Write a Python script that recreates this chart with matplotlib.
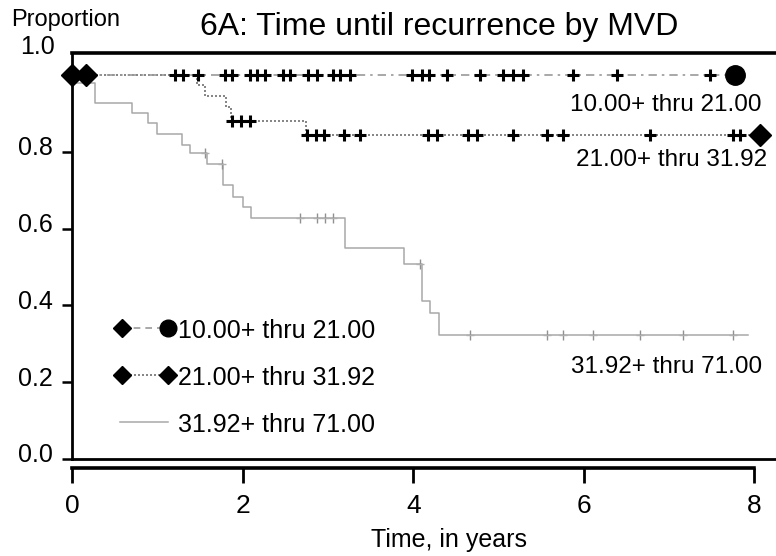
import numpy as np
import matplotlib
matplotlib.use('Agg')
import matplotlib.pyplot as plt
from matplotlib.transforms import ScaledTranslation

plt.rcParams['font.family'] = ['Liberation Sans', 'DejaVu Sans']

# group 1: 10.00+ thru 21.00 (no recurrences, only censored cases)
g1_censor = [1.21, 1.30, 1.48, 1.79, 1.88, 2.09, 2.17, 2.26, 2.47, 2.55, 2.77, 2.87,
             3.06, 3.14, 3.26, 3.99, 4.10, 4.19, 4.40, 4.78, 5.05, 5.17, 5.29, 5.87,
             6.39, 7.48]
g1_start = 0.16
g1_end = 7.77

# group 2: 21.00+ thru 31.92
g2_times = [0.0, 1.47, 1.56, 1.80, 1.86, 2.74]
g2_surv = [1.0, 0.974, 0.945, 0.917, 0.880, 0.844]
g2_censor = [1.88, 1.98, 2.09, 2.76, 2.86, 2.95, 3.19, 3.38, 4.17, 4.28, 4.64, 4.75,
             5.17, 5.57, 5.76, 6.78, 7.75, 7.83]
g2_end = 8.07

# group 3: 31.92+ thru 71.00
g3_times = [0.0, 0.02, 0.27, 0.70, 0.89, 1.00, 1.29, 1.38, 1.58, 1.77, 1.89, 2.00,
            2.10, 3.20, 3.89, 4.10, 4.20, 4.30]
g3_surv = [1.0, 0.979, 0.927, 0.901, 0.875, 0.846, 0.818, 0.797, 0.768, 0.714, 0.682,
           0.656, 0.628, 0.549, 0.508, 0.411, 0.380, 0.323]
g3_censor = [1.56, 1.76, 2.67, 2.87, 2.97, 3.06, 4.08, 4.67, 5.57, 5.76, 6.11, 6.66,
             7.16, 7.75]
g3_end = 7.92

group_labels = ['10.00+ thru 21.00', '21.00+ thru 31.92', '31.92+ thru 71.00']
y_ticks = [0.0, 0.2, 0.4, 0.6, 0.8]
x_ticks = [0, 2, 4, 6, 8]

W, H = 776, 556


def fx(px):
    return px / W


def fy(py):
    return 1 - py / H


def surv_at(times, surv, t):
    return surv[np.searchsorted(times, t, side='right') - 1]


fig = plt.figure(figsize=(W / 100, H / 100), dpi=100)
ax = fig.add_axes([fx(72), fy(459), fx(776) - fx(72), fy(53) - fy(459)])
ax.set_xlim(0, (776 - 72) / 85.3)
ax.set_ylim(0, 1 + 22 / 384)

# group 3 - thin solid grey
t3 = np.append(g3_times, g3_end)
s3 = np.append(g3_surv, g3_surv[-1])
ax.step(t3, s3, where='post', color='#a8a8a8', lw=1.1, zorder=2)
c3 = [surv_at(g3_times, g3_surv, c) for c in g3_censor]
ax.plot(g3_censor, c3, ls='none', marker='|', ms=7, mew=1.0, color='#909090', zorder=2)
ax.plot(g3_censor, c3, ls='none', marker='_', ms=6, mew=1.0, color='#b0b0b0', zorder=2)

# group 2 - dotted
t2 = np.append(g2_times, g2_end)
s2 = np.append(g2_surv, g2_surv[-1])
ax.step(t2, s2, where='post', color='#707070', lw=1.2, ls=(0, (1.2, 1.2)), zorder=3)
c2 = [surv_at(g2_times, g2_surv, c) for c in g2_censor]
ax.plot(g2_censor, c2, ls='none', marker='+', ms=9, mew=2.2, color='black', zorder=4)
ax.plot(g2_times[0], g2_surv[0], marker='D', ms=11, color='black', zorder=5, clip_on=False)
ax.plot(g2_end, g2_surv[-1], marker='D', ms=11, color='black', zorder=5, clip_on=False)

# group 1 - dash-dot grey
ax.plot([g1_start, g1_end], [1.0, 1.0], color='#9a9a9a', lw=1.2, ls=(0, (5, 3, 1.5, 3)), zorder=3)
ax.plot(g1_censor, [1.0] * len(g1_censor), ls='none', marker='+', ms=9, mew=2.2,
        color='black', zorder=4)
ax.plot(g1_start, 1.0, marker='D', ms=11, color='black', zorder=5, clip_on=False)
ax.plot(g1_end, 1.0, marker='o', ms=14, color='black', zorder=5, clip_on=False)

# frame
for side in ['left', 'bottom']:
    ax.spines[side].set_linewidth(2.0)
ax.spines['top'].set_linewidth(2.6)
ax.spines['right'].set_visible(False)

ax.set_yticks(y_ticks)
ax.set_yticklabels(['%.1f' % v for v in y_ticks])
ax.tick_params(axis='y', direction='out', length=7, width=1.8, pad=7, labelsize=18)
for lab in ax.get_yticklabels():
    lab.set_transform(lab.get_transform() + ScaledTranslation(0, 0.06, fig.dpi_scale_trans))
ax.set_xticks([])

# separate x axis line below the frame (SPSS style)
secx = ax.secondary_xaxis(-9 / 406)
secx.spines['bottom'].set_linewidth(2.6)
secx.spines['bottom'].set_bounds(0, 8)
secx.set_xticks(x_ticks)
secx.set_xticklabels([str(v) for v in x_ticks])
secx.tick_params(direction='out', length=11, width=2.0, pad=8, labelsize=19)

fig.text(fx(449), fy(540), 'Time, in years', ha='center', va='center', fontsize=18)
fig.text(fx(439), fy(27), '6A: Time until recurrence by MVD', ha='center', va='center',
         fontsize=23)
fig.text(fx(66), fy(20), 'Proportion', ha='center', va='center', fontsize=17)
fig.text(fx(55), fy(47), '1.0', ha='right', va='center', fontsize=18)

# curve labels
fig.text(fx(762), fy(105), group_labels[0], ha='right', va='center', fontsize=17.5)
fig.text(fx(767), fy(160), group_labels[1], ha='right', va='center', fontsize=17.5)
fig.text(fx(762), fy(367), group_labels[2], ha='right', va='center', fontsize=17.5)

# legend drawn by hand, no frame
leg_rows = [fy(328), fy(375), fy(422)]
x_a, x_b = fx(122), fx(168)
fig.add_artist(plt.Line2D([x_a, x_b], [leg_rows[0]] * 2, color='#9a9a9a', lw=1.2,
                          ls=(0, (4, 3)), transform=fig.transFigure))
fig.add_artist(plt.Line2D([x_a], [leg_rows[0]], marker='D', ms=9, color='black',
                          transform=fig.transFigure))
fig.add_artist(plt.Line2D([x_b], [leg_rows[0]], marker='o', ms=12, color='black',
                          transform=fig.transFigure))
fig.add_artist(plt.Line2D([x_a, x_b], [leg_rows[1]] * 2, color='#707070', lw=1.2,
                          ls=(0, (1.2, 1.2)), transform=fig.transFigure))
fig.add_artist(plt.Line2D([x_a, x_b], [leg_rows[1]] * 2, ls='none', marker='D', ms=9,
                          color='black', transform=fig.transFigure))
fig.add_artist(plt.Line2D([fx(120), x_b], [leg_rows[2]] * 2, color='#a8a8a8', lw=1.1,
                          transform=fig.transFigure))
for row, lab in zip(leg_rows, group_labels):
    fig.text(fx(178), row - 3 / H, lab, ha='left', va='center', fontsize=18)

fig.savefig('out.png', dpi=100)
